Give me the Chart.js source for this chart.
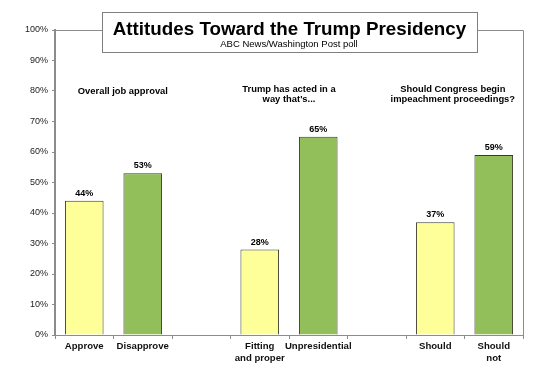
<!DOCTYPE html>
<html>
<head>
<meta charset="utf-8">
<script src="https://cdn.jsdelivr.net/npm/chart.js@4"></script>
<style>
  html, body { margin: 0; padding: 0; background: #fff; }
  #wrap { width: 552px; height: 384px; position: relative; }
</style>
</head>
<body>
<div id="wrap"><canvas id="trumpChart"></canvas></div>
<script>
// categories (blank slots separate the three questions)
const categories = [["Approve"], ["Disapprove"], [""], ["Fitting", "and proper"], ["Unpresidential"], [""], ["Should"], ["Should", "not"]];
const values = [44, 53, null, 28, 65, null, 37, 59];
const barColors = ["#FFFF99", "#92BF5A", null, "#FFFF99", "#92BF5A", null, "#FFFF99", "#92BF5A"];
const yTicks = [0, 10, 20, 30, 40, 50, 60, 70, 80, 90, 100];

// question headings: text lines, x position (category index), y value
const groupLabels = [
    { lines: ["Overall job approval"], at: 0.66, y: 80 },
    { lines: ["Trump has acted in a", "way that's..."], at: 3.5, y: 80.6 },
    { lines: ["Should Congress begin", "impeachment proceedings?"], at: 6.3, y: 80.6 },
];

const titleText = "Attitudes Toward the Trump Presidency";
const subtitleText = "ABC News/Washington Post poll";

const FONT = "'Liberation Sans', Arial, sans-serif";

// plot border, title box, question labels, value labels
const decorPlugin = {
    id: "decor",
    afterDraw(chart) {
        const { ctx, chartArea: a, scales: { x, y } } = chart;
        ctx.save();

        // frame top + right
        ctx.strokeStyle = "#8c8c8c";
        ctx.lineWidth = 1;
        ctx.beginPath();
        ctx.moveTo(a.left, a.top + 0.5);
        ctx.lineTo(a.right + 0.5, a.top + 0.5);
        ctx.lineTo(a.right + 0.5, a.bottom);
        ctx.stroke();

        // title box
        const bx = 102, by = 12, bw = 375, bh = 40;
        ctx.fillStyle = "#fff";
        ctx.fillRect(bx, by, bw, bh);
        ctx.strokeStyle = "#7f7f7f";
        ctx.strokeRect(bx + 0.5, by + 0.5, bw, bh);

        ctx.fillStyle = "#000";
        ctx.textAlign = "center";
        ctx.textBaseline = "alphabetic";
        ctx.font = "bold 18.8px " + FONT;
        ctx.fillText(titleText, 289.5, 35);
        ctx.font = "9.5px " + FONT;
        ctx.fillText(subtitleText, 289, 47);

        // question labels
        ctx.font = "bold 9.4px " + FONT;
        ctx.textBaseline = "middle";
        const step = (x.getPixelForValue(1) - x.getPixelForValue(0));
        groupLabels.forEach(g => {
            const px = x.getPixelForValue(0) + step * g.at;
            const py = y.getPixelForValue(g.y);
            g.lines.forEach((ln, i) => ctx.fillText(ln, px, py + i * 10.5));
        });

        // value labels
        ctx.font = "bold 9px " + FONT;
        ctx.textBaseline = "bottom";
        const meta = chart.getDatasetMeta(0);
        meta.data.forEach((bar, i) => {
            if (values[i] == null) return;
            ctx.fillText(values[i] + "%", bar.x, bar.y - 3);
        });

        ctx.restore();
    }
};

new Chart(document.getElementById("trumpChart"), {
    type: "bar",
    data: {
        labels: categories,
        datasets: [{
            data: values,
            backgroundColor: barColors,
            borderColor: "#3a3a2a",
            borderWidth: 1,
            barPercentage: 0.66,
            categoryPercentage: 1,
        }],
    },
    options: {
        responsive: true,
        maintainAspectRatio: false,
        animation: false,
        layout: { padding: { top: 30, right: 29, left: 0, bottom: 0 } },
        plugins: {
            legend: { display: false },
            tooltip: { enabled: false },
        },
        scales: {
            x: {
                afterFit: (s) => { s.height = 49; },
                grid: {
                    offset: true,
                    drawOnChartArea: false,
                    drawTicks: true,
                    tickLength: 4,
                    color: "#8c8c8c",
                },
                border: { color: "#8c8c8c", width: 1 },
                ticks: {
                    color: "#111",
                    font: { family: FONT, size: 9.6, weight: "bold" },
                    maxRotation: 0,
                    autoSkip: false,
                    padding: 2,
                },
            },
            y: {
                min: 0,
                max: 100,
                afterFit: (s) => { s.width = 55; },
                afterBuildTicks: (s) => { s.ticks = yTicks.map(v => ({ value: v })); },
                grid: {
                    drawOnChartArea: false,
                    drawTicks: true,
                    tickLength: 3,
                    color: "#8c8c8c",
                },
                border: { color: "#8c8c8c", width: 2 },
                ticks: {
                    color: "#222",
                    font: { family: FONT, size: 9 },
                    padding: 4,
                    callback: (v) => v + "%",
                },
            },
        },
    },
    plugins: [decorPlugin],
});
</script>
</body>
</html>
